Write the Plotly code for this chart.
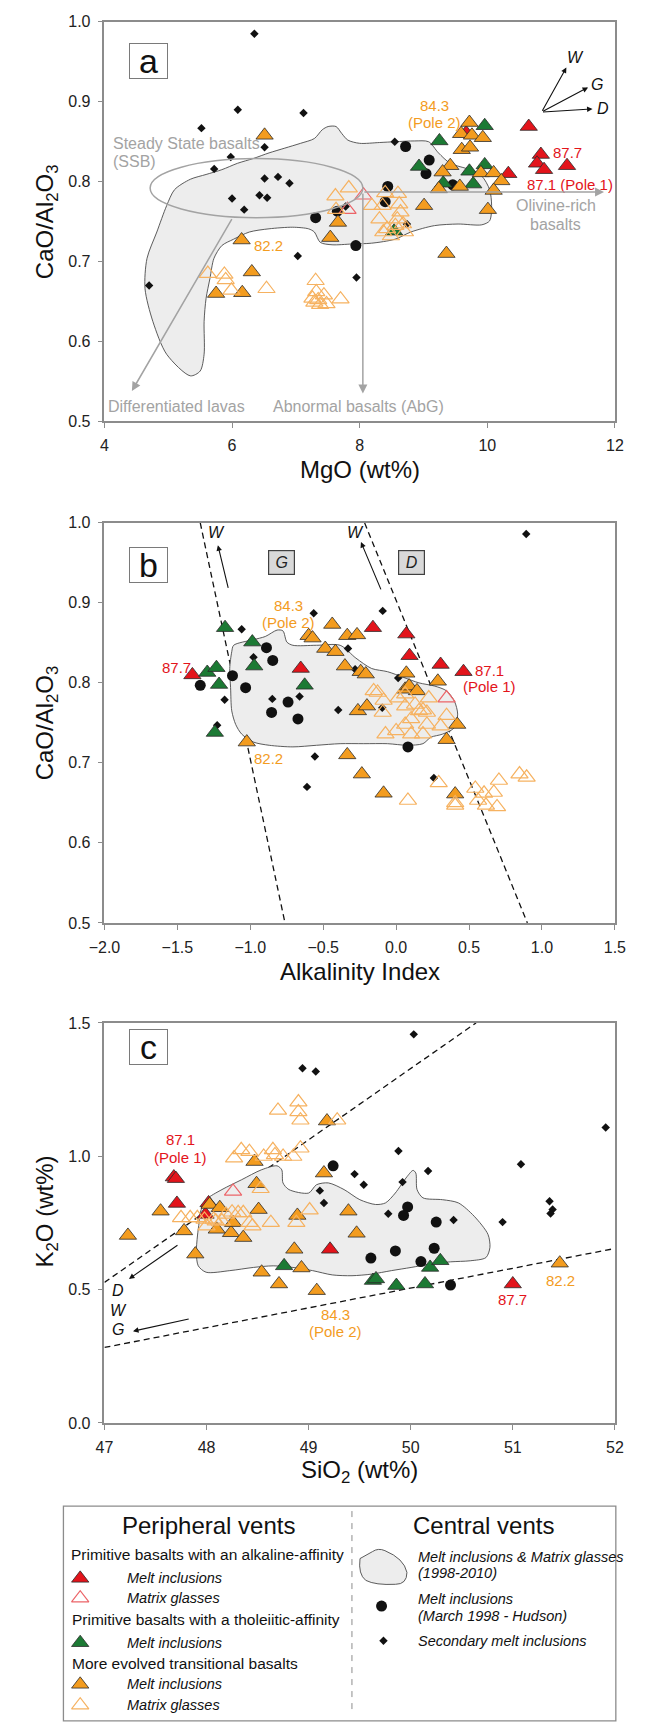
import plotly.graph_objects as go

W, H = 646, 1725
FONT = "Liberation Sans, Arial, sans-serif"

ORANGE = "#F39C1F"
ORANGE_OPEN = "#F6B261"
RED = "#E3141B"
RED_OPEN = "#EC6468"
GREEN = "#1C7A34"
GREY_TXT = "#A3A3A3"
EDGE = "#2b2b2b"

# ---------------- Panel a : CaO/Al2O3 vs MgO ----------------
a_sec_mgo = [6.35, 5.52, 6.09, 7.12, 5.98, 5.72, 6.51, 6.51, 6.72, 6.90, 6.43, 6.00, 6.55, 6.19, 7.78, 7.03, 7.95, 4.70, 8.55, 8.74]
a_sec_cao = [0.985, 0.867, 0.890, 0.886, 0.831, 0.816, 0.843, 0.804, 0.806, 0.798, 0.783, 0.779, 0.780, 0.765, 0.769, 0.707, 0.680, 0.670, 0.850, 0.747]
a_hud_mgo = [7.31, 7.65, 7.94, 8.44, 8.40, 8.72, 9.09, 9.04, 9.46]
a_hud_cao = [0.755, 0.763, 0.720, 0.794, 0.775, 0.844, 0.827, 0.810, 0.796]
a_red_mi_mgo = [10.65, 10.84, 10.78, 10.89, 11.25, 10.33, 9.67]
a_red_mi_cao = [0.869, 0.834, 0.823, 0.815, 0.820, 0.810, 0.861]
a_red_mg_mgo = [7.81, 8.06]
a_red_mg_cao = [0.765, 0.783]
a_grn_mgo = [9.96, 9.25, 8.93, 9.72, 9.96, 9.31, 9.78, 8.54]
a_grn_cao = [0.870, 0.851, 0.819, 0.813, 0.821, 0.798, 0.797, 0.738]
a_org_mi_mgo = [6.51, 6.15, 6.31, 5.75, 6.16, 7.54, 7.66, 9.72, 9.59, 9.76, 9.93, 9.60, 9.73, 9.42, 9.30, 9.24,
                9.57, 9.90, 10.10, 10.22, 10.10, 10.01, 9.01, 9.36]
a_org_mi_cao = [0.858, 0.727, 0.687, 0.660, 0.661, 0.730, 0.749, 0.874, 0.860, 0.858, 0.855, 0.840, 0.843, 0.820,
                0.812, 0.791, 0.794, 0.811, 0.811, 0.801, 0.789, 0.765, 0.770, 0.710]
a_org_mg_mgo = [5.62, 5.88, 5.90, 5.99, 6.54, 7.31, 7.32, 7.26, 7.35, 7.44, 7.48, 7.38, 7.29, 7.70, 7.62, 7.83,
                7.63, 8.19, 8.31, 8.40, 8.36, 8.60, 8.62, 8.64, 8.59, 8.43, 8.37, 8.71, 8.56, 8.49, 8.68]
a_org_mg_cao = [0.685, 0.684, 0.677, 0.664, 0.666, 0.676, 0.662, 0.654, 0.652, 0.658, 0.647, 0.646, 0.649, 0.653,
                0.782, 0.792, 0.765, 0.770, 0.753, 0.786, 0.770, 0.785, 0.772, 0.762, 0.753, 0.741, 0.737, 0.737,
                0.745, 0.732, 0.747]
# field of central-vent melt inclusions & matrix glasses (1998-2010)
a_field_mgo = [5.346, 4.975, 4.759, 4.636, 4.667, 4.821, 4.975, 5.099, 5.346, 5.593, 5.840, 6.086, 6.333, 6.580,
               6.827, 7.074, 7.290, 7.414, 7.506, 7.630, 7.722, 7.815, 8.000, 8.309, 8.556, 8.864, 9.080, 9.235,
               9.420, 9.728, 9.914, 10.037, 10.068, 10.037, 9.914, 9.543, 9.173, 8.802, 8.556, 8.185, 7.877,
               7.568, 7.383, 7.290, 7.198, 6.951, 6.580, 6.272, 6.025, 5.840, 5.716, 5.654, 5.593, 5.562, 5.562,
               5.500, 5.346]
a_field_cao = [0.557, 0.584, 0.625, 0.666, 0.704, 0.737, 0.770, 0.790, 0.803, 0.809, 0.815, 0.823, 0.829, 0.836,
               0.842, 0.848, 0.854, 0.865, 0.869, 0.869, 0.860, 0.852, 0.848, 0.849, 0.850, 0.851, 0.850, 0.836,
               0.823, 0.815, 0.807, 0.790, 0.770, 0.751, 0.746, 0.747, 0.745, 0.737, 0.728, 0.723, 0.722, 0.721,
               0.724, 0.737, 0.741, 0.743, 0.741, 0.737, 0.728, 0.720, 0.704, 0.679, 0.654, 0.625, 0.584, 0.563,
               0.557]

# ---------------- Panel b : CaO/Al2O3 vs Alkalinity Index ----------------
b_sec_ai = [0.892, -0.565, -0.092, -1.059, -0.330, -0.978, -0.281, 0.014, -1.176, -0.849, -0.662, -0.397, -0.095,
            -1.227, -0.557, -0.611, 0.259]
b_sec_cao = [0.986, 0.887, 0.890, 0.867, 0.843, 0.832, 0.817, 0.806, 0.779, 0.780, 0.783, 0.766, 0.769, 0.747,
             0.708, 0.670, 0.681]
b_hud_ai = [-1.343, -1.122, -1.032, -0.889, -0.846, -0.854, -0.741, -0.673, 0.081]
b_hud_cao = [0.797, 0.809, 0.794, 0.844, 0.828, 0.763, 0.776, 0.755, 0.720]
b_red_mi_ai = [-1.397, -0.654, -0.159, 0.070, 0.092, 0.305, 0.462]
b_red_mi_cao = [0.810, 0.818, 0.869, 0.861, 0.834, 0.823, 0.814]
b_red_mg_ai = [0.346]
b_red_mg_cao = [0.781]
b_grn_ai = [-1.173, -0.986, -1.295, -1.232, -1.214, -0.973, -0.627, -1.243]
b_grn_cao = [0.869, 0.851, 0.813, 0.819, 0.798, 0.821, 0.797, 0.738]
b_org_mi_ai = [-0.438, -0.600, -0.573, -0.335, -0.268, -0.486, -0.416, -0.351, -0.243, -0.208, 0.070, 0.062,
               0.089, 0.143, 0.286, -0.262, -0.200, -1.024, -0.335, -0.235, -0.086, 0.346, 0.419, 0.405]
b_org_mi_cao = [0.873, 0.859, 0.856, 0.859, 0.860, 0.843, 0.839, 0.821, 0.814, 0.811, 0.812, 0.792, 0.796, 0.790,
                0.802, 0.765, 0.771, 0.726, 0.710, 0.686, 0.662, 0.729, 0.748, 0.661]
b_org_mg_ai = [-0.154, -0.127, -0.086, -0.092, 0.016, 0.062, 0.130, 0.157, 0.184, 0.211, 0.103, 0.224, 0.211,
               0.305, 0.346, -0.073, 0.000, 0.062, 0.103, 0.184, 0.062,
               0.081, 0.292, 0.405, 0.405, 0.543, 0.562, 0.603, 0.616, 0.670, 0.692, 0.705, 0.846, 0.895]
b_org_mg_cao = [0.790, 0.788, 0.778, 0.763, 0.781, 0.771, 0.773, 0.765, 0.766, 0.763, 0.755, 0.781, 0.748, 0.746,
                0.759, 0.736, 0.740, 0.748, 0.736, 0.736, 0.786,
                0.653, 0.675, 0.650, 0.647, 0.668, 0.653, 0.662, 0.647, 0.663, 0.645, 0.678, 0.686, 0.682]
b_field_ai = [-1.114, -0.978, -0.897, -0.816, -0.776, -0.749, -0.708, -0.546, -0.384, -0.276, -0.168, -0.059,
              0.049, 0.157, 0.265, 0.346, 0.400, 0.422, 0.400, 0.319, 0.238, 0.184, 0.076, -0.059, -0.222, -0.384,
              -0.546, -0.708, -0.870, -0.978, -1.059, -1.100, -1.127, -1.135, -1.141, -1.127, -1.114]
b_field_cao = [0.847, 0.854, 0.858, 0.866, 0.865, 0.851, 0.847, 0.847, 0.847, 0.831, 0.818, 0.814, 0.807, 0.800,
               0.796, 0.790, 0.777, 0.761, 0.744, 0.736, 0.732, 0.724, 0.722, 0.724, 0.724, 0.724, 0.722, 0.720,
               0.722, 0.726, 0.736, 0.748, 0.765, 0.794, 0.818, 0.839, 0.847]
# boundary lines between the G, W and D fields (end points)
b_line1_ai = [-1.343, -0.762]
b_line2_ai = [-0.216, 0.900]
b_line_cao = [1.0, 0.5]

# ---------------- Panel c : K2O vs SiO2 ----------------
c_sec_si = [50.03, 48.94, 49.07, 51.91, 49.88, 51.08, 50.17, 49.45, 49.54, 49.92, 49.11, 49.15, 49.78, 50.42,
            50.90, 51.36, 51.39, 51.37]
c_sec_k = [1.457, 1.330, 1.318, 1.108, 1.020, 0.970, 0.945, 0.933, 0.893, 0.903, 0.871, 0.825, 0.784, 0.761,
           0.753, 0.831, 0.800, 0.785]
c_hud_si = [49.24, 49.97, 49.93, 50.25, 49.61, 49.85, 50.23, 50.10, 50.39]
c_hud_k = [0.964, 0.810, 0.778, 0.753, 0.618, 0.645, 0.655, 0.605, 0.517]
c_red_mi_si = [47.68, 47.70, 47.71, 48.02, 47.99, 49.21, 51.00]
c_red_mi_k = [0.922, 0.916, 0.823, 0.825, 0.782, 0.651, 0.521]
c_red_mg_si = [48.26]
c_red_mg_k = [0.868]
c_grn_si = [48.76, 49.63, 49.66, 49.86, 50.14, 50.19, 50.29]
c_grn_k = [0.589, 0.534, 0.540, 0.515, 0.521, 0.583, 0.608]
c_org_mi_si = [47.23, 47.55, 47.78, 47.89, 48.03, 48.13, 48.10, 48.24, 48.26, 48.36, 48.47, 48.49, 48.51, 48.89,
               48.86, 49.15, 49.18, 49.39, 49.47, 48.54, 48.71, 48.93, 49.08, 51.46]
c_org_mi_k = [0.703, 0.794, 0.720, 0.633, 0.819, 0.807, 0.726, 0.713, 0.751, 0.695, 0.980, 0.897, 0.800, 0.778,
              0.651, 0.937, 1.132, 0.794, 0.711, 0.565, 0.521, 0.581, 0.496, 0.599]
c_org_mg_si = [48.70, 48.90, 48.90, 48.92, 49.28, 48.34, 48.42, 48.27, 48.56, 48.65, 48.67, 48.75, 48.85, 48.92,
               48.53, 47.75, 47.84, 47.91, 47.98, 48.07, 48.19, 48.25, 48.31, 48.36, 48.15, 48.42, 48.45, 48.63,
               48.88, 49.01, 48.00, 48.09]
c_org_mg_k = [1.172, 1.203, 1.166, 1.135, 1.135, 1.024, 1.017, 0.993, 0.999, 1.024, 1.005, 0.999, 0.999, 1.030,
              0.878, 0.769, 0.769, 0.769, 0.763, 0.763, 0.782, 0.790, 0.788, 0.788, 0.757, 0.751, 0.738, 0.751,
              0.751, 0.798, 0.738, 0.757]
c_field_si = [47.938, 47.996, 48.151, 48.344, 48.537, 48.691, 48.737, 48.749, 48.807, 49.000, 49.077, 49.193,
              49.347, 49.502, 49.656, 49.753, 49.849, 49.965, 50.023, 50.050, 50.062, 50.120, 50.313, 50.467,
              50.622, 50.757, 50.776, 50.737, 50.583, 50.390, 50.197, 50.004, 49.811, 49.618, 49.425, 49.232,
              49.039, 48.846, 48.653, 48.459, 48.228, 47.996, 47.919, 47.900, 47.911, 47.927, 47.938]
c_field_k = [0.788, 0.837, 0.875, 0.912, 0.949, 0.964, 0.949, 0.900, 0.875, 0.862, 0.893, 0.900, 0.875, 0.837,
             0.819, 0.825, 0.862, 0.924, 0.947, 0.937, 0.875, 0.844, 0.837, 0.825, 0.775, 0.707, 0.658, 0.620,
             0.608, 0.604, 0.596, 0.583, 0.571, 0.558, 0.552, 0.555, 0.571, 0.583, 0.589, 0.583, 0.571, 0.565,
             0.589, 0.639, 0.701, 0.751, 0.788]
c_upper_si = [47.0, 50.64]
c_upper_k = [0.527, 1.5]
c_lower_si = [47.0, 52.0]
c_lower_k = [0.283, 0.654]

# ---------------- layout geometry (pixels) ----------------
PLOT_L, PLOT_R = 92.3, 625.0
PANELS = [(14.0, 417.5), (520.0, 924.0), (1025.0, 1429.0)]
TRI = 15


def px(x):
    return x / W


def py(y):
    return 1 - y / H


fig = go.Figure()


def add_group(xa, ya, xs, ys, kind):
    if kind == "field":
        fig.add_trace(go.Scatter(x=xs, y=ys, xaxis=xa, yaxis=ya, mode="lines", fill="toself",
                                 fillcolor="#EDEDED", line=dict(color="#4a4a4a", width=0.9, shape="spline",
                                                                smoothing=0.8),
                                 hoverinfo="skip", showlegend=False))
        return
    styles = {
        "sec": dict(symbol="diamond", size=6.5, color="#111111", line=dict(width=0)),
        "hud": dict(symbol="circle", size=11, color="#111111", line=dict(width=0)),
        "red_mi": dict(symbol="triangle-up", size=TRI, color=RED, line=dict(color=EDGE, width=0.8)),
        "red_mg": dict(symbol="triangle-up-open", size=TRI, color=RED_OPEN, line=dict(width=1.2)),
        "grn": dict(symbol="triangle-up", size=TRI, color=GREEN, line=dict(color=EDGE, width=0.8)),
        "org_mi": dict(symbol="triangle-up", size=TRI, color=ORANGE, line=dict(color=EDGE, width=0.8)),
        "org_mg": dict(symbol="triangle-up-open", size=TRI, color=ORANGE_OPEN, line=dict(width=1.2)),
    }
    fig.add_trace(go.Scatter(x=xs, y=ys, xaxis=xa, yaxis=ya, mode="markers", marker=styles[kind],
                             showlegend=False, hoverinfo="x+y"))


panel_data = [
    ("x", "y", [(a_field_mgo, a_field_cao, "field"), (a_sec_mgo, a_sec_cao, "sec"), (a_hud_mgo, a_hud_cao, "hud"),
                (a_red_mi_mgo, a_red_mi_cao, "red_mi"), (a_grn_mgo, a_grn_cao, "grn"),
                (a_org_mi_mgo, a_org_mi_cao, "org_mi"), (a_red_mg_mgo, a_red_mg_cao, "red_mg"),
                (a_org_mg_mgo, a_org_mg_cao, "org_mg")]),
    ("x2", "y2", [(b_field_ai, b_field_cao, "field"), (b_sec_ai, b_sec_cao, "sec"), (b_hud_ai, b_hud_cao, "hud"),
                  (b_red_mi_ai, b_red_mi_cao, "red_mi"), (b_grn_ai, b_grn_cao, "grn"),
                  (b_org_mi_ai, b_org_mi_cao, "org_mi"), (b_red_mg_ai, b_red_mg_cao, "red_mg"),
                  (b_org_mg_ai, b_org_mg_cao, "org_mg")]),
    ("x3", "y3", [(c_field_si, c_field_k, "field"), (c_sec_si, c_sec_k, "sec"), (c_hud_si, c_hud_k, "hud"),
                  (c_red_mi_si, c_red_mi_k, "red_mi"), (c_grn_si, c_grn_k, "grn"),
                  (c_org_mi_si, c_org_mi_k, "org_mi"), (c_red_mg_si, c_red_mg_k, "red_mg"),
                  (c_org_mg_si, c_org_mg_k, "org_mg")]),
]

# dashed boundary lines (drawn under the symbols)
for xa, ya, xs, ys in [("x2", "y2", b_line1_ai, b_line_cao), ("x2", "y2", b_line2_ai, b_line_cao),
                       ("x3", "y3", c_upper_si, c_upper_k), ("x3", "y3", c_lower_si, c_lower_k)]:
    fig.add_trace(go.Scatter(x=xs, y=ys, xaxis=xa, yaxis=ya, mode="lines",
                             line=dict(color="#111111", width=1.3, dash="6px,4px"),
                             hoverinfo="skip", showlegend=False))

for xa, ya, groups in panel_data:
    for xs, ys, kind in groups:
        add_group(xa, ya, xs, ys, kind)

# ---------------- axes ----------------
def axis_style(rng, dtick, fmt, domain):
    return dict(range=rng, dtick=dtick, tickformat=fmt, domain=domain, showgrid=False, zeroline=False,
                showline=True, linecolor="#8c8c8c", linewidth=1.5, mirror=True, ticks="outside", ticklen=5,
                tickcolor="#8c8c8c", tickwidth=1.3, ticklabelstandoff=4,
                tickfont=dict(family=FONT, size=16, color="#222222"), fixedrange=True)


xdom = [px(PLOT_L), px(PLOT_R)]
ydoms = [[py(b), py(t)] for t, b in PANELS]
fig.update_layout(
    xaxis=dict(axis_style([4, 12], 2, "d", xdom), anchor="y"),
    yaxis=dict(axis_style([0.5, 1.0], 0.1, ".1f", ydoms[0]), anchor="x"),
    xaxis2=dict(axis_style([-2, 1.5], 0.5, ".1f", xdom), anchor="y2"),
    yaxis2=dict(axis_style([0.5, 1.0], 0.1, ".1f", ydoms[1]), anchor="x2"),
    xaxis3=dict(axis_style([47, 52], 1, "d", xdom), anchor="y3"),
    yaxis3=dict(axis_style([0, 1.5], 0.5, ".1f", ydoms[2]), anchor="x3"),
    xaxis4=dict(domain=[0, 1], range=[0, W], visible=False, fixedrange=True, anchor="y4"),
    yaxis4=dict(domain=[0, 1], range=[H, 0], visible=False, fixedrange=True, anchor="x4"),
)

ann = []


def text(x, y, s, size=15, color="#111111", xref="paper", yref="paper", xanchor="center", italic=False,
         angle=0):
    if italic:
        s = "<i>" + s + "</i>"
    ann.append(dict(x=x, y=y, xref=xref, yref=yref, text=s, showarrow=False, xanchor=xanchor, yanchor="middle",
                    textangle=angle, font=dict(family=FONT, size=size, color=color)))


def arrow(x0, y0, x1, y1, xref, yref, color, width, size=1.0):
    ann.append(dict(x=x1, y=y1, ax=x0, ay=y0, xref=xref, yref=yref, axref=xref, ayref=yref, text="",
                    showarrow=True, arrowhead=2, arrowsize=size, arrowwidth=width, arrowcolor=color))


# axis titles
mid_x = (PLOT_L + PLOT_R) / 2
text(px(31.8), py(215.8), "CaO/Al<sub>2</sub>O<sub>3</sub>", 24, angle=-90)
text(px(mid_x), py(466.5), "MgO (wt%)", 24)
text(px(31.8), py(722.0), "CaO/Al<sub>2</sub>O<sub>3</sub>", 24, angle=-90)
text(px(mid_x), py(973.0), "Alkalinity Index", 24)
text(px(31.8), py(1215.0), "K<sub>2</sub>O (wt%)", 24, angle=-90)
text(px(mid_x), py(1478.0), "SiO<sub>2</sub> (wt%)", 24)

# panel letters
for letter, cy in [("a", 35.8), ("b", 544.3), ("c", 1049.7)]:
    ann.append(dict(x=px(117.5), y=py(cy), xref="paper", yref="paper", text=letter, showarrow=False,
                    font=dict(family=FONT, size=34, color="#111111"), width=35, height=32,
                    bordercolor="#7a7a7a", borderwidth=1, borderpad=1, bgcolor="white"))

# panel a annotations
text(4.10, 0.848, "Steady State basalts", 16, GREY_TXT, "x", "y", "left")
text(4.10, 0.825, "(SSB)", 16, GREY_TXT, "x", "y", "left")
text(11.07, 0.770, "Olivine-rich", 16, GREY_TXT, "x", "y")
text(11.07, 0.747, "basalts", 16, GREY_TXT, "x", "y")
text(5.13, 0.519, "Differentiated lavas", 16, GREY_TXT, "x", "y")
text(7.98, 0.519, "Abnormal basalts (AbG)", 16, GREY_TXT, "x", "y")
text(9.17, 0.895, "84.3", 15, ORANGE, "x", "y")
text(9.17, 0.874, "(Pole 2)", 15, ORANGE, "x", "y")
text(6.32, 0.720, "82.2", 15, ORANGE, "x", "y", "left")
text(11.26, 0.836, "87.7", 15, RED, "x", "y")
text(11.30, 0.797, "87.1 (Pole 1)", 15, RED, "x", "y")
arrow(6.01, 0.755, 4.43, 0.538, "x", "y", GREY_TXT, 1.5, 1.2)
arrow(8.05, 0.787, 8.05, 0.535, "x", "y", GREY_TXT, 1.5, 1.2)
arrow(8.05, 0.787, 11.83, 0.787, "x", "y", GREY_TXT, 1.5, 1.2)
arrow(10.85, 0.887, 11.24, 0.943, "x", "y", "#111111", 1.1)
arrow(10.85, 0.887, 11.58, 0.918, "x", "y", "#111111", 1.1)
arrow(10.85, 0.887, 11.65, 0.891, "x", "y", "#111111", 1.1)
text(11.38, 0.955, "W", 16, "#111111", "x", "y", italic=True)
text(11.72, 0.922, "G", 16, "#111111", "x", "y", italic=True)
text(11.81, 0.891, "D", 16, "#111111", "x", "y", italic=True)

# panel b annotations
text(-0.735, 0.897, "84.3", 15, ORANGE, "x2", "y2")
text(-0.735, 0.875, "(Pole 2)", 15, ORANGE, "x2", "y2")
text(-1.505, 0.819, "87.7", 15, RED, "x2", "y2")
text(0.638, 0.815, "87.1", 15, RED, "x2", "y2")
text(0.638, 0.795, "(Pole 1)", 15, RED, "x2", "y2")
text(-0.876, 0.706, "82.2", 15, ORANGE, "x2", "y2")
arrow(-1.149, 0.917, -1.222, 0.972, "x2", "y2", "#111111", 1.1)
arrow(-0.100, 0.915, -0.241, 0.976, "x2", "y2", "#111111", 1.1)
text(-1.235, 0.988, "W", 16, "#111111", "x2", "y2", italic=True)
text(-0.281, 0.988, "W", 16, "#111111", "x2", "y2", italic=True)
for lab, cx in [("G", 277.6), ("D", 412.3)]:
    ann.append(dict(x=px(cx), y=py(547.5), xref="paper", yref="paper", text="<i>" + lab + "</i>",
                    showarrow=False, font=dict(family=FONT, size=16, color="#222222"), width=23, height=21,
                    bgcolor="#D9D9D9", bordercolor="#404040", borderwidth=1.2, borderpad=1))

# panel c annotations
text(47.745, 1.061, "87.1", 15, RED, "x3", "y3")
text(47.745, 0.996, "(Pole 1)", 15, RED, "x3", "y3")
text(51.0, 0.463, "87.7", 15, RED, "x3", "y3")
text(49.26, 0.407, "84.3", 15, ORANGE, "x3", "y3")
text(49.26, 0.344, "(Pole 2)", 15, ORANGE, "x3", "y3")
text(51.47, 0.533, "82.2", 15, ORANGE, "x3", "y3")
arrow(47.73, 0.670, 47.24, 0.540, "x3", "y3", "#111111", 1.1)
arrow(47.84, 0.391, 47.28, 0.344, "x3", "y3", "#111111", 1.1)
text(47.13, 0.496, "D", 16, "#111111", "x3", "y3", italic=True)
text(47.14, 0.422, "W", 16, "#111111", "x3", "y3", italic=True)
text(47.13, 0.350, "G", 16, "#111111", "x3", "y3", italic=True)

# ---------------- key ----------------
LEG_L, LEG_R, LEG_T = 49.5, 626.0, 1513.0
LEG_DIV = 350.6
text(px(200.5), py(1533), "Peripheral vents", 24)
text(px(488.4), py(1533), "Central vents", 24)
text(px(55.7), py(1562), "Primitive basalts with an alkaline-affinity", 15.5, xanchor="left")
text(px(56.5), py(1628), "Primitive basalts with a tholeiitic-affinity", 15.5, xanchor="left")
text(px(56.5), py(1672), "More evolved transitional basalts", 15.5, xanchor="left")

key_rows = [(1586, "red_mi", "Melt inclusions"), (1606, "red_mg", "Matrix glasses"),
            (1651, "grn", "Melt inclusions"), (1693, "org_mi", "Melt inclusions"),
            (1714, "org_mg", "Matrix glasses")]
for ky, kind, lab in key_rows:
    add_group("x4", "y4", [67.0], [ky], kind)
    text(px(113.5), py(ky), lab, 14.5, xanchor="left", italic=True)

add_group("x4", "y4", [381.5], [1614.0], "hud")
add_group("x4", "y4", [383.5], [1649.0], "sec")
text(px(417), py(1564), "Melt inclusions & Matrix glasses", 14.5, xanchor="left", italic=True)
text(px(417), py(1581), "(1998-2010)", 14.5, xanchor="left", italic=True)
text(px(417), py(1607), "Melt inclusions", 14.5, xanchor="left", italic=True)
text(px(417), py(1624), "(March 1998 - Hudson)", 14.5, xanchor="left", italic=True)
text(px(417), py(1649), "Secondary melt inclusions", 14.5, xanchor="left", italic=True)

shapes = [
    # SSB ellipse in panel a
    dict(type="circle", xref="x", yref="y", x0=4.716, x1=8.05, y0=0.755, y1=0.829,
         line=dict(color="#A3A3A3", width=1.5)),
    # key frame
    dict(type="rect", xref="paper", yref="paper", x0=px(LEG_L), x1=px(LEG_R), y0=py(H + 5), y1=py(LEG_T),
         line=dict(color="#8c8c8c", width=1.3)),
    dict(type="line", xref="paper", yref="paper", x0=px(LEG_DIV), x1=px(LEG_DIV), y0=py(1718), y1=py(1517),
         line=dict(color="#8c8c8c", width=1, dash="6px,6px")),
    # key swatch of the central-vent field
    dict(type="path", xref="x4", yref="y4",
         path="M 359,1566 L 372,1559 Q 378,1555 385,1558 Q 405,1566 408,1580 Q 408,1592 396,1592 "
              "Q 375,1593 365,1588 Q 357,1582 359,1566 Z",
         fillcolor="#EDEDED", line=dict(color="#4a4a4a", width=0.9)),
]

fig.update_layout(width=W, height=H, margin=dict(l=0, r=0, t=0, b=0), paper_bgcolor="white",
                  plot_bgcolor="rgba(0,0,0,0)", showlegend=False, annotations=ann, shapes=shapes,
                  font=dict(family=FONT, color="#111111"))

fig.write_html("out.html")
